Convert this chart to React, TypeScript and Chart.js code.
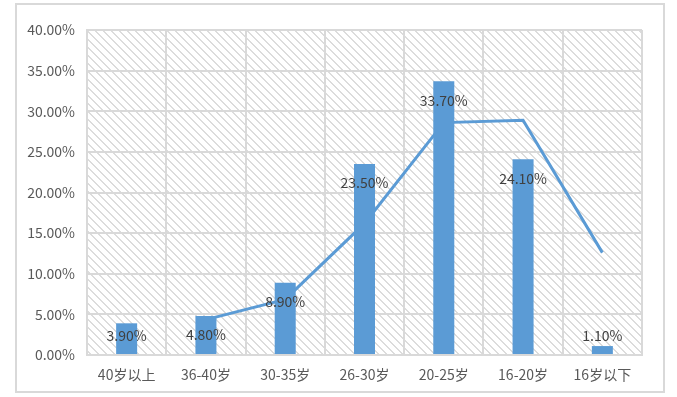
import React, { useEffect, useRef } from "react";
import { Chart, registerables } from "chart.js";

Chart.register(...registerables);

const categories = ["40岁以上", "36-40岁", "30-35岁", "26-30岁", "20-25岁", "16-20岁", "16岁以下"];
const barValues = [3.9, 4.8, 8.9, 23.5, 33.7, 24.1, 1.1];
const trendValues = [null, 4.35, 6.85, 16.2, 28.6, 28.9, 12.6];
const yMax = 40;
const yStep = 5;

const BLUE = "#5B9BD5";
const GRID = "#d9d9d9";
const TEXT = "#595959";
const FONT = "'Noto Sans CJK SC', 'Noto Sans', sans-serif";

function makePattern(ctx: CanvasRenderingContext2D) {
  const c = document.createElement("canvas");
  c.width = 8;
  c.height = 8;
  const p = c.getContext("2d")!;
  p.fillStyle = "#ffffff";
  p.fillRect(0, 0, 8, 8);
  p.fillStyle = "#dcdcdc";
  for (let y = 0; y < 8; y++) {
    for (let x = 0; x < 8; x++) {
      const d = (((x - y) % 8) + 8) % 8;
      if (d === 0 || d === 1) p.fillRect(x, y, 1, 1);
    }
  }
  return ctx.createPattern(c, "repeat");
}

const bgPlugin = {
  id: "bgPlugin",
  beforeDraw(chart: any) {
    const { ctx, chartArea } = chart;
    ctx.save();
    ctx.fillStyle = "#ffffff";
    ctx.fillRect(0, 0, chart.width, chart.height);
    ctx.strokeStyle = GRID;
    ctx.lineWidth = 2;
    ctx.strokeRect(16, 4, 648, 388);
    const pat = makePattern(ctx);
    if (pat) {
      ctx.fillStyle = pat;
      ctx.fillRect(chartArea.left, chartArea.top, chartArea.right - chartArea.left, chartArea.bottom - chartArea.top);
    }
    ctx.restore();
  },
};

const labelPlugin = {
  id: "labelPlugin",
  afterDraw(chart: any) {
    const { ctx } = chart;
    const meta = chart.getDatasetMeta(0);
    const yScale = chart.scales.y;
    const base = yScale.getPixelForValue(0);
    ctx.save();
    ctx.font = `14px ${FONT}`;
    ctx.fillStyle = "#404040";
    ctx.textAlign = "center";
    ctx.textBaseline = "middle";
    meta.data.forEach((el: any, i: number) => {
      const y = Math.min(el.y + 19, base - 19);
      ctx.fillText(barValues[i].toFixed(2) + "%", el.x, y);
    });
    ctx.restore();
  },
};

export default function App() {
  const ref = useRef<HTMLCanvasElement>(null);
  useEffect(() => {
    if (!ref.current) return;
    const chart = new Chart(ref.current, {
      type: "bar",
      data: {
        labels: categories,
        datasets: [
          {
            type: "bar",
            data: barValues,
            backgroundColor: BLUE,
            barPercentage: 0.53,
            categoryPercentage: 0.5,
            order: 0,
          } as any,
          {
            type: "line",
            data: trendValues,
            borderColor: BLUE,
            borderWidth: 3,
            pointRadius: 0,
            tension: 0,
            spanGaps: true,
            order: 1,
          } as any,
        ],
      },
      options: {
        animation: false,
        responsive: false,
        layout: { padding: { left: 0, top: 30, right: 35, bottom: 0 } },
        plugins: { legend: { display: false }, tooltip: { enabled: false } },
        scales: {
          x: {
            grid: { color: GRID, lineWidth: 2, drawTicks: false, offset: true },
            border: { color: GRID, width: 2 },
            ticks: { color: TEXT, font: { size: 14, family: FONT }, padding: 11 },
            afterFit(scale: any) {
              scale.height = 42;
            },
          },
          y: {
            min: 0,
            max: yMax,
            grid: { color: GRID, lineWidth: 2, drawTicks: false },
            border: { color: GRID, width: 2 },
            ticks: {
              stepSize: yStep,
              color: TEXT,
              font: { size: 14, family: FONT },
              padding: 12,
              callback: (v: any) => Number(v).toFixed(2) + "%",
            },
            afterFit(scale: any) {
              scale.width = 87;
            },
          },
        },
      },
      plugins: [bgPlugin, labelPlugin],
    });
    return () => chart.destroy();
  }, []);
  return (
    <div style={{ position: "fixed", left: 0, top: 0, width: 677, height: 397 }}>
      <canvas ref={ref} width={677} height={397} style={{ display: "block" }} />
    </div>
  );
}
